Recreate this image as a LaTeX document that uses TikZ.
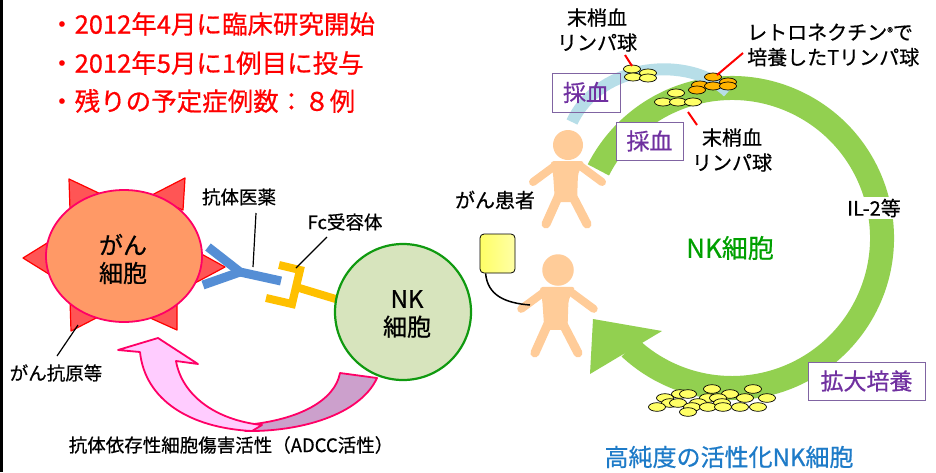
\documentclass[tikz,border=0pt]{standalone}
\usepackage{fontspec}
\setmainfont{Noto Sans CJK JP}[FakeBold=0.6]
\usetikzlibrary{shapes.geometric}

\definecolor{bulletred}{HTML}{FF0000}
\definecolor{cellorange}{HTML}{FF9966}
\definecolor{cellrim}{HTML}{FF0066}
\definecolor{spikefill}{HTML}{FF5555}
\definecolor{spikerim}{HTML}{FF0000}
\definecolor{abblue}{HTML}{558ED5}
\definecolor{fcgold}{HTML}{FFC000}
\definecolor{nkfill}{HTML}{D7E4BD}
\definecolor{nkrim}{HTML}{109A10}
\definecolor{adccpink}{HTML}{FFCCFF}
\definecolor{adccpurple}{HTML}{CCA0CC}
\definecolor{cyclegreen}{HTML}{92D050}
\definecolor{drawblue}{HTML}{B7DEE8}
\definecolor{boxpurple}{HTML}{8064A2}
\definecolor{textpurple}{HTML}{7030A0}
\definecolor{nkgreen}{HTML}{00A000}
\definecolor{resultblue}{HTML}{1E7BC8}
\definecolor{skin}{HTML}{FFCC99}
\definecolor{coinyellow}{HTML}{FFFF66}
\definecolor{coinorange}{HTML}{FFB400}

\tikzset{
  plain/.style={inner sep=0pt, align=center},
  redline/.style={plain, anchor=west, text=bulletred, font=\fontsize{25.5}{30}\selectfont},
  blk18/.style={plain, font=\fontsize{18.5}{22}\selectfont},
  blk20/.style={plain, font=\fontsize{20}{25}\selectfont},
  celltext/.style={plain, font=\fontsize{24}{28}\selectfont},
  pbox/.style={draw=boxpurple, line width=1pt, text=textpurple, inner sep=0pt,
    font=\fontsize{23}{26}\selectfont},
  spike/.style={fill=spikefill, draw=spikerim, line width=1.2pt, line join=round},
  coin/.style={draw=black, line width=0.7pt, fill=coinyellow},
  ocoin/.style={draw=black, line width=0.7pt, fill=coinorange},
  pointer/.style={draw=black, line width=1.2pt},
  redptr/.style={draw=bulletred, line width=2pt},
  abarm/.style={draw=abblue, line width=9pt, line join=miter},
  fcarm/.style={draw=fcgold, line width=8pt, line join=miter},
  person/.pic={
    \fill[skin] (0,0) circle[radius=15];
    \fill[skin, rounded corners=4pt] (-18,16) -- (17,16) -- (10,28) -- (9,57) -- (-13,57) -- (-15,28) -- cycle;
    \draw[skin, line width=8pt, line cap=round] (-12,20) -- (-35,37);
    \draw[skin, line width=8pt, line cap=round] (11,20) -- (34,37);
    \draw[skin, line width=9pt, line cap=round] (-9,50) -- (-22,79);
    \draw[skin, line width=9pt, line cap=round] (4,50) -- (19,79);
  }
}

\begin{document}
\begin{tikzpicture}[x=1pt, y=-1pt]
  % canvas
  \fill[white] (0,0) rectangle (936,472);
  \useasboundingbox (0,0) rectangle (936,472);
  \fill[black] (0,0) rectangle (3,472);

  % status list
  \node[redline] (l1) at (49,24) {・2012年4月に臨床研究開始};
  \node[redline] (l2) at (49,63) {・2012年5月に1例目に投与};
  \node[redline] (l3) at (49,101) {・残りの予定症例数：８例};

  % cancer cell with antigen spikes
  \filldraw[spike] (69,179) -- (70,210) -- (105,196) -- cycle;
  \filldraw[spike] (185,178) -- (183,210) -- (150,196) -- cycle;
  \filldraw[spike] (23,258) -- (52,240) -- (52,276) -- cycle;
  \filldraw[spike] (225,267) -- (196,251) -- (195,283) -- cycle;
  \filldraw[spike] (70,300) -- (71,331) -- (102,315) -- cycle;
  \filldraw[spike] (177,302) -- (177,330) -- (148,317) -- cycle;
  \node[ellipse, draw=cellrim, line width=1.8pt, fill=cellorange,
        minimum width=156pt, minimum height=132pt, inner sep=0pt] (cancer) at (124,256) {};
  \node[celltext] (cancerlbl) at (123,259) {がん\\細胞};

  % antibody
  \draw[abarm] (208,247) -- (240,272) -- (281,281);
  \draw[abarm] (203,285) -- (240,272);

  % Fc receptor
  \draw[fcarm] (279,265) -- (300,270) -- (292,304) -- (266,298);
  \draw[fcarm] (296,287) -- (339,300);

  % NK cell
  \node[circle, draw=nkrim, line width=2.2pt, fill=nkfill, minimum size=136pt, inner sep=0pt] (nk) at (403,312) {};
  \node[celltext] (nklbl) at (407,314) {NK\\細胞};

  % ADCC arrow (twisted ribbon)
  \filldraw[fill=adccpurple, draw=cellrim, line width=1.8pt, line join=round]
    (245,431) .. controls (300,432) and (360,415) .. (377,378)
    -- (340,373) .. controls (335,400) and (300,420) .. (245,425) -- cycle;
  \filldraw[fill=adccpink, draw=cellrim, line width=1.8pt, line join=round]
    (118,350) -- (158,338) -- (198,364) -- (176,361)
    .. controls (182,395) and (215,420) .. (262,425)
    -- (252,431) .. controls (190,428) and (145,400) .. (140,352) -- cycle;

  % labels on the left
  \node[blk18] (ablbl) at (239,197) {抗体医薬};
  \node[blk18] (fclbl) at (345,222) {Fc受容体};
  \node[blk18] (aglbl) at (56,373) {がん抗原等};
  \node[blk18] (adcclbl) at (231,445) {抗体依存性細胞傷害活性（ADCC活性）};
  \coordinate (abfoot) at (256,213);
  \coordinate (abptr) at (253,267);
  \coordinate (fcfoot) at (327,237);
  \coordinate (fcptr) at (296,268);
  \coordinate (agfoot) at (57,356);
  \coordinate (agptr) at (78,325);
  \draw[pointer] (abfoot) -- (abptr);
  \draw[pointer] (fcfoot) -- (fcptr);
  \draw[pointer] (agfoot) -- (agptr);

  % culture cycle
  \coordinate (cc) at (732,238);
  \draw[cyclegreen, line width=24pt] (cc) ++(207:150) arc[start angle=207, end angle=493, radius=150];
  \fill[cyclegreen] (593,319) -- (662,331) -- (590,374) -- cycle;

  % blood draw band
  \draw[drawblue, line width=12pt] (572,122) .. controls (600,62) and (690,55) .. (728,92);

  % labels of the cycle
  \node[pbox, minimum width=68pt, minimum height=39pt] (draw1) at (586,92.5) {採血};
  \node[pbox, fill=white, minimum width=67pt, minimum height=38pt] (draw2) at (649.5,141) {採血};
  \node[pbox, fill=white, minimum width=117pt, minimum height=38pt] (expand) at (866.5,381) {拡大培養};
  \node[blk20, fill=white, inner sep=2pt] (il2) at (874,208) {IL-2等};
  \node[plain, text=nkgreen, font=\fontsize{26}{30}\selectfont] (nkcycle) at (730,248) {NK細胞};
  \node[plain, text=resultblue, font=\fontsize{24}{28}\selectfont] (result) at (729,457) {高純度の活性化NK細胞};
  \node[blk20] (pbl1) at (597,30) {末梢血\\リンパ球};
  \node[blk20] (pbl2) at (732,150) {末梢血\\リンパ球};
  \node[blk20, align=left, anchor=west] (retro) at (747,45) {レトロネクチン\raisebox{3pt}{\fontsize{12}{12}\selectfont ®}で\\培養したTリンパ球};

  % lymphocytes
  \foreach \x/\y in {632/69, 648/73, 633/77, 648/78}
    \draw[coin] (\x,\y) ellipse[x radius=8.5, y radius=4];
  \foreach \x/\y in {713/77, 700/85, 713/86, 697/90, 728/82, 728/86}
    \draw[ocoin] (\x,\y) ellipse[x radius=8.5, y radius=4];
  \foreach \x/\y in {676/93, 663/102, 678/102, 693/102}
    \draw[coin] (\x,\y) ellipse[x radius=8.5, y radius=4];
  \foreach \x/\y in {712/389, 753/389, 680/394, 688/394, 730/394, 665/398, 708/398,
                     718/398, 745/398, 767/398, 670/403, 678/403, 698/403, 722/403,
                     657/407, 692/407, 708/407, 723/407, 740/407, 758/407, 688/412}
    \draw[coin] (\x,\y) ellipse[x radius=8.5, y radius=4.3];

  % pointers to the lymphocytes
  \coordinate (pblfootA) at (625,55);
  \coordinate (ptrA) at (632,66);
  \coordinate (retrofoot) at (743,53);
  \coordinate (ptrB) at (717,75);
  \coordinate (pblfootB) at (697,125);
  \coordinate (ptrC) at (688,112);
  \draw[redptr] (pblfootA) -- (ptrA);
  \draw[redptr] (retrofoot) -- (ptrB);
  \draw[redptr] (pblfootB) -- (ptrC);

  % patient
  \pic (patient1) at (568,145) {person};
  \node[blk20] (patientlbl) at (495,200) {がん患者};
  \pic[scale=1.05] (patient2) at (558,270) {person};

  % infusion bag and tube
  \node[draw=black, line width=0.8pt, rounded corners=4pt, left color=coinyellow, right color=yellow!35,
        minimum width=35pt, minimum height=39pt, inner sep=0pt] (bag) at (497.5,253.5) {};
  \coordinate (tubeend) at (530,305);
  \draw[line width=1.5pt] (bag.south west) ++(6,0) .. controls +(2,22) and +(-25,-2) .. (tubeend);
\end{tikzpicture}
\end{document}
